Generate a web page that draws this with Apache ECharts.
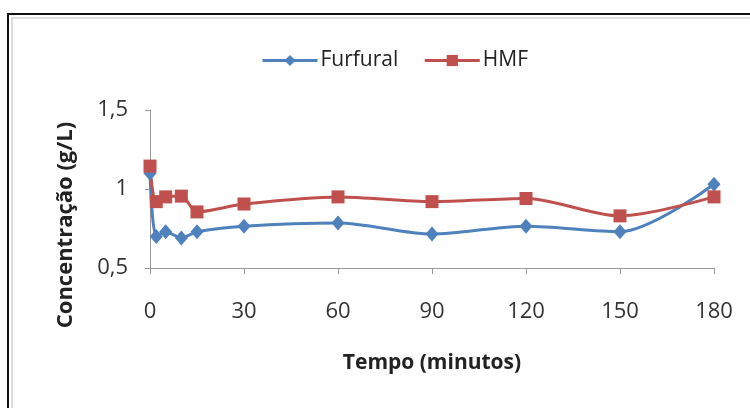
<!DOCTYPE html>
<html><head><meta charset="utf-8">
<script src="https://cdn.jsdelivr.net/npm/echarts@6/dist/echarts.min.js"></script>
<style>html,body{margin:0;padding:0;background:#fff}#c{width:750px;height:408px}</style>
</head><body><div id="c"></div>
<script>
const tempo = [0, 2, 5, 10, 15, 30, 60, 90, 120, 150, 180];
const furfural = [1.10, 0.70, 0.73, 0.69, 0.73, 0.765, 0.785, 0.715, 0.765, 0.73, 1.03];
const hmf = [1.145, 0.92, 0.95, 0.955, 0.855, 0.905, 0.95, 0.92, 0.94, 0.83, 0.95];
const xTicks = [0, 30, 60, 90, 120, 150, 180];
const yTicks = [0.5, 1, 1.5];
const yTitle = 'Concentração (g/L)';
const xTitle = 'Tempo (minutos)';

const font = '"Open Sans", "DejaVu Sans", sans-serif';
const chart = echarts.init(document.getElementById('c'));
chart.setOption({
  animation: false,
  backgroundColor: '#fff',
  graphic: [
    {type: 'rect', shape: {x: 8, y: 14, width: 760, height: 420}, style: {fill: 'none', stroke: '#111', lineWidth: 2}, silent: true},
    {type: 'rect', shape: {x: 12, y: 18, width: 760, height: 420}, style: {fill: 'none', stroke: '#d4d4d4', lineWidth: 1.5}, silent: true},
    {type: 'text', x: 66, y: 225, rotation: Math.PI / 2,
     style: {text: yTitle, fontFamily: font, fontSize: 22, fontWeight: 'bold', fill: '#222', align: 'center', verticalAlign: 'middle'},
     silent: true}
  ],
  legend: {
    top: 45, left: 256, itemGap: 25, itemWidth: 55, itemHeight: 14,
    lineStyle: {width: 3},
    textStyle: {fontFamily: font, fontSize: 21, color: '#222', padding: [0, 0, 0, -2]},
    data: [{name: 'Furfural'}, {name: 'HMF'}]
  },
  grid: {left: 150, right: 36, top: 110, bottom: 140},
  xAxis: {
    type: 'value', min: 0, max: 180, interval: 30,
    name: xTitle, nameLocation: 'middle', nameGap: 85,
    nameTextStyle: {fontFamily: font, fontSize: 21, fontWeight: 'bold', color: '#222'},
    axisLine: {show: true, lineStyle: {color: '#999', width: 1}},
    axisTick: {show: true, length: 6, lineStyle: {color: '#999'}},
    axisLabel: {fontFamily: font, fontSize: 22, color: '#333', margin: 33,
      formatter: v => xTicks.includes(v) ? String(v) : ''},
    splitLine: {show: false}
  },
  yAxis: {
    type: 'value', min: 0.5, max: 1.5, interval: 0.5,
    axisLine: {show: true, lineStyle: {color: '#999', width: 1}},
    axisTick: {show: true, length: 5, lineStyle: {color: '#999'}},
    axisLabel: {fontFamily: font, fontSize: 22, color: '#333', margin: 22,
      formatter: v => yTicks.includes(v) ? String(v).replace('.', ',') : ''},
    splitLine: {show: false}
  },
  series: [
    {name: 'Furfural', type: 'line', smooth: 0.3,
     data: tempo.map((t, i) => [t, furfural[i]]),
     symbol: 'diamond', symbolSize: [13, 15],
     lineStyle: {color: '#4F81BD', width: 3},
     itemStyle: {color: '#4F81BD'}},
    {name: 'HMF', type: 'line', smooth: 0.3,
     data: tempo.map((t, i) => [t, hmf[i]]),
     symbol: 'rect', symbolSize: 13,
     lineStyle: {color: '#C0504D', width: 3},
     itemStyle: {color: '#C0504D'}}
  ]
});
</script></body></html>
